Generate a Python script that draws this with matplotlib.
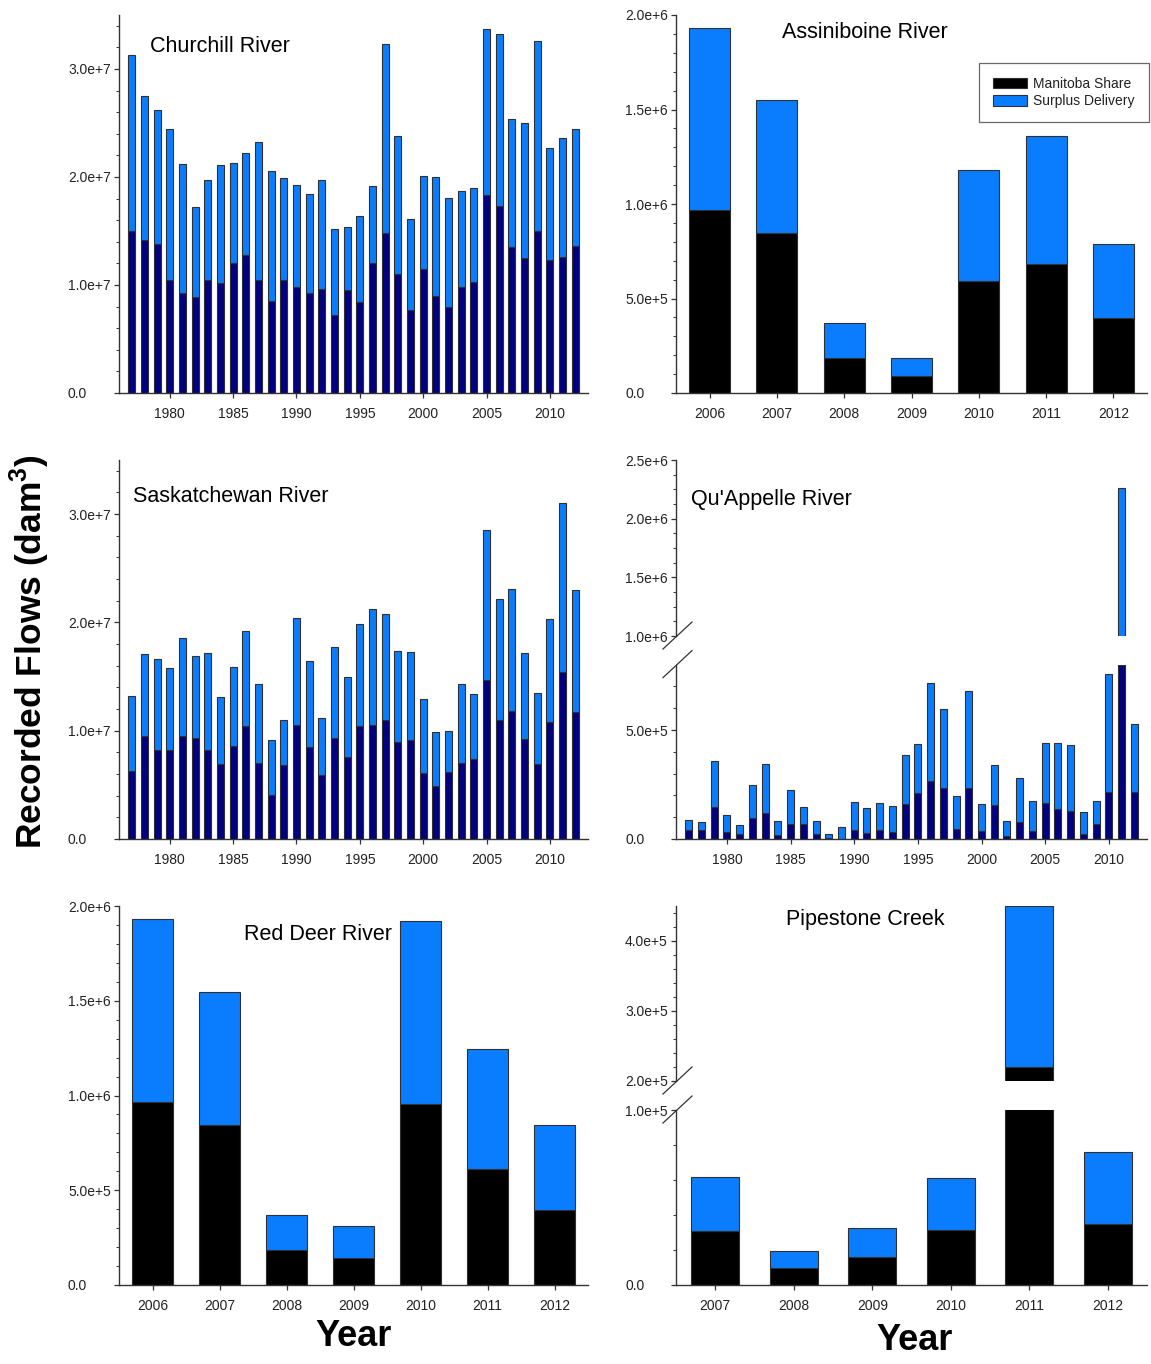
import matplotlib
matplotlib.use("Agg")
import matplotlib.pyplot as plt
import matplotlib.transforms as mtransforms
import numpy as np
from matplotlib.ticker import FixedLocator, MultipleLocator, FuncFormatter
from matplotlib.patches import Patch
from matplotlib.lines import Line2D

plt.rcParams['font.family'] = ['Liberation Sans', 'DejaVu Sans']
plt.rcParams['mathtext.fontset'] = 'custom'
plt.rcParams['mathtext.rm'] = 'Liberation Sans'
plt.rcParams['mathtext.bf'] = 'Liberation Sans:bold'

# ---------------- data ----------------
years = list(range(1977, 2013))

churchill_total = [3.13, 2.75, 2.62, 2.44, 2.12, 1.72, 1.97, 2.11, 2.13, 2.22, 2.32, 2.06,
                   1.99, 1.93, 1.84, 1.97, 1.52, 1.54, 1.64, 1.92, 3.23, 2.38, 1.61, 2.01,
                   2.00, 1.81, 1.87, 1.90, 3.37, 3.32, 2.54, 2.50, 3.26, 2.27, 2.36, 2.44]  # x1e7
churchill_share = [1.50, 1.42, 1.38, 1.05, 0.93, 0.89, 1.05, 1.02, 1.20, 1.28, 1.05, 0.85,
                   1.05, 0.98, 0.93, 0.96, 0.72, 0.95, 0.84, 1.20, 1.48, 1.10, 0.77, 1.15,
                   0.90, 0.80, 0.98, 1.03, 1.83, 1.73, 1.35, 1.25, 1.50, 1.23, 1.26, 1.36]  # x1e7

sask_total = [1.32, 1.71, 1.66, 1.58, 1.86, 1.69, 1.72, 1.31, 1.59, 1.92, 1.43, 0.91,
              1.10, 2.04, 1.64, 1.12, 1.77, 1.50, 1.99, 2.12, 2.08, 1.74, 1.73, 1.29,
              0.99, 1.00, 1.43, 1.34, 2.85, 2.22, 2.31, 1.72, 1.35, 2.03, 3.10, 2.30]  # x1e7
sask_share = [0.63, 0.95, 0.82, 0.82, 0.95, 0.93, 0.82, 0.69, 0.86, 1.04, 0.70, 0.41,
              0.68, 1.05, 0.85, 0.59, 0.93, 0.76, 1.04, 1.05, 1.10, 0.90, 0.91, 0.61,
              0.49, 0.62, 0.70, 0.74, 1.47, 1.10, 1.18, 0.92, 0.69, 1.08, 1.54, 1.17]  # x1e7

quap_total = [0.087, 0.078, 0.360, 0.111, 0.064, 0.247, 0.343, 0.082, 0.224, 0.146, 0.082, 0.021,
              0.055, 0.169, 0.142, 0.165, 0.151, 0.386, 0.437, 0.716, 0.595, 0.198, 0.677, 0.160,
              0.338, 0.082, 0.280, 0.174, 0.442, 0.442, 0.433, 0.125, 0.174, 0.755, 2.258, 0.529]  # x1e6
quap_share = [0.043, 0.043, 0.148, 0.030, 0.023, 0.096, 0.117, 0.017, 0.070, 0.070, 0.021, 0.003,
              0.002, 0.043, 0.026, 0.043, 0.030, 0.162, 0.213, 0.265, 0.235, 0.047, 0.235, 0.035,
              0.155, 0.012, 0.078, 0.035, 0.166, 0.139, 0.130, 0.021, 0.070, 0.216, 0.800, 0.216]  # x1e6

assin_years = ['2006', '2007', '2008', '2009', '2010', '2011', '2012']
assin_total = [1.929, 1.549, 0.368, 0.185, 1.182, 1.358, 0.786]  # x1e6
assin_share = [0.966, 0.846, 0.183, 0.092, 0.594, 0.684, 0.399]  # x1e6

reddeer_years = ['2006', '2007', '2008', '2009', '2010', '2011', '2012']
reddeer_total = [1.933, 1.548, 0.371, 0.309, 1.919, 1.248, 0.844]  # x1e6
reddeer_share = [0.965, 0.844, 0.186, 0.142, 0.954, 0.613, 0.397]  # x1e6

pipe_years = ['2007', '2008', '2009', '2010', '2011', '2012']
pipe_total = [0.620, 0.196, 0.325, 0.614, 4.500, 0.759]  # x1e5
pipe_share = [0.306, 0.100, 0.160, 0.316, 2.200, 0.348]  # x1e5

# ---------------- style ----------------
BLUE = '#0A7DFF'
NAVY = '#000080'
BLACK = '#000000'
EDGE = '#303030'
SPINE = '#333333'
TICKC = '#222222'

W, H = 1151, 1364
fig = plt.figure(figsize=(W / 100, H / 100), dpi=100)
PIX = mtransforms.IdentityTransform()


def add_axes_px(x0, y0, x1, y1):
    """Axes placed by pixel box, y measured from the top edge."""
    return fig.add_axes([x0 / W, 1 - y1 / H, (x1 - x0) / W, (y1 - y0) / H])


def sci_fmt(v, pos=None):
    if abs(v) < 1e-12:
        return '0.0'
    exp = int(np.floor(np.log10(abs(v)) + 1e-9))
    mant = v / 10 ** exp
    return f'{mant:.1f}e+{exp}'


def style_axes(ax, label_offset_px=51):
    for s in ['top', 'right']:
        ax.spines[s].set_visible(False)
    for s in ['left', 'bottom']:
        ax.spines[s].set_color(SPINE)
        ax.spines[s].set_linewidth(1.0)
    ax.tick_params(axis='both', which='major', direction='out', length=3.5, width=0.9,
                   color=SPINE, labelcolor=TICKC, labelsize=10)
    ax.tick_params(axis='both', which='minor', direction='out', length=2, width=0.7, color=SPINE)
    ax.tick_params(axis='x', which='minor', bottom=False)
    ax.tick_params(axis='x', which='major', pad=6.5)
    # y labels are left-aligned at a fixed distance from the spine
    ax.tick_params(axis='y', which='major', pad=label_offset_px * 0.72 - 3.5)
    ax.yaxis.set_major_formatter(FuncFormatter(sci_fmt))


def left_align_yticks(ax):
    for lab in ax.get_yticklabels():
        lab.set_horizontalalignment('left')


def stacked(ax, x, total, share, scale, share_color, width):
    share_v = np.array(share) * scale
    surplus_v = (np.array(total) - np.array(share)) * scale
    ax.bar(x, share_v, width=width, color=share_color, edgecolor=EDGE, linewidth=0.8)
    ax.bar(x, surplus_v, bottom=share_v, width=width, color=BLUE, edgecolor=EDGE, linewidth=0.8)


def break_mark(ax, where):
    # diagonal stroke across the left spine at the top or bottom end of an axis segment
    pos = ax.get_position()
    xs = pos.x0 * W
    ys = (pos.y1 if where == 'top' else pos.y0) * H
    line = Line2D([(xs - 13) / W, (xs + 16) / W], [(ys - 13) / H, (ys + 14) / H],
                  transform=fig.transFigure, color=SPINE, linewidth=0.9)
    fig.add_artist(line)


def panel_title(ax, x, y_top, text, ha):
    ax.text(x, H - y_top, text, transform=PIX, fontsize=15.5, ha=ha, va='center')


# ---------------- Churchill River ----------------
ax = add_axes_px(119, 15, 588, 393)
stacked(ax, years, churchill_total, churchill_share, 1e7, NAVY, 0.55)
ax.set_xlim(1976, 2013)
ax.set_ylim(0, 3.5e7)
ax.xaxis.set_major_locator(MultipleLocator(5))
ax.yaxis.set_major_locator(FixedLocator([0, 1e7, 2e7, 3e7]))
ax.yaxis.set_minor_locator(MultipleLocator(2e6))
style_axes(ax)
left_align_yticks(ax)
panel_title(ax, 150, 46, 'Churchill River', 'left')

# ---------------- Assiniboine River ----------------
ax = add_axes_px(676, 15, 1147, 393)
xa = np.arange(len(assin_years))
stacked(ax, xa, assin_total, assin_share, 1e6, BLACK, 0.61)
ax.set_xlim(-0.5, len(assin_years) - 0.5)
ax.set_ylim(0, 2.0e6)
ax.set_xticks(xa)
ax.set_xticklabels(assin_years)
ax.yaxis.set_major_locator(MultipleLocator(5e5))
ax.yaxis.set_minor_locator(MultipleLocator(1e5))
style_axes(ax)
left_align_yticks(ax)
panel_title(ax, 864.5, 32, 'Assiniboine River', 'center')
handles = [Patch(facecolor=BLACK, edgecolor=EDGE, linewidth=0.8, label='Manitoba Share'),
           Patch(facecolor=BLUE, edgecolor=EDGE, linewidth=0.8, label='Surplus Delivery')]
leg = ax.legend(handles=handles, loc='upper right', bbox_to_anchor=(1.004, 0.873),
                frameon=True, fancybox=False, fontsize=10, handlelength=2.4, handleheight=0.75,
                handletextpad=0.5, labelspacing=0.25, borderpad=1.0, borderaxespad=0)
leg.get_frame().set_edgecolor('#444444')
leg.get_frame().set_linewidth(0.9)
for t in leg.get_texts():
    t.set_color(TICKC)

# ---------------- Saskatchewan River ----------------
ax = add_axes_px(119, 460, 588, 839)
stacked(ax, years, sask_total, sask_share, 1e7, NAVY, 0.55)
ax.set_xlim(1976, 2013)
ax.set_ylim(0, 3.5e7)
ax.xaxis.set_major_locator(MultipleLocator(5))
ax.yaxis.set_major_locator(FixedLocator([0, 1e7, 2e7, 3e7]))
ax.yaxis.set_minor_locator(MultipleLocator(2e6))
style_axes(ax)
left_align_yticks(ax)
panel_title(ax, 133, 497, 'Saskatchewan River', 'left')

# ---------------- Qu'Appelle River (broken axis) ----------------
ax_up = add_axes_px(676, 460, 1147, 636)
ax_lo = add_axes_px(676, 664.6, 1147, 839)
for a in (ax_up, ax_lo):
    stacked(a, years, quap_total, quap_share, 1e6, NAVY, 0.55)
    a.set_xlim(1976, 2013)
ax_up.set_ylim(1.0e6, 2.5e6)
ax_lo.set_ylim(0, 0.8e6)
ax_up.yaxis.set_major_locator(MultipleLocator(5e5))
ax_up.yaxis.set_minor_locator(MultipleLocator(1.25e5))
ax_lo.yaxis.set_major_locator(FixedLocator([0, 5e5]))
ax_lo.yaxis.set_minor_locator(FixedLocator([1e5, 2e5, 3e5, 4e5, 6e5, 7e5]))
ax_lo.xaxis.set_major_locator(MultipleLocator(5))
style_axes(ax_up)
style_axes(ax_lo)
ax_up.spines['bottom'].set_visible(False)
ax_up.tick_params(axis='x', which='both', bottom=False, labelbottom=False)
left_align_yticks(ax_up)
left_align_yticks(ax_lo)
break_mark(ax_up, 'bottom')
break_mark(ax_lo, 'top')
panel_title(ax_up, 691, 500, "Qu'Appelle River", 'left')

# ---------------- Red Deer River ----------------
ax = add_axes_px(119, 906, 588, 1285)
xr = np.arange(len(reddeer_years))
stacked(ax, xr, reddeer_total, reddeer_share, 1e6, BLACK, 0.6)
ax.set_xlim(-0.5, len(reddeer_years) - 0.5)
ax.set_ylim(0, 2.0e6)
ax.set_xticks(xr)
ax.set_xticklabels(reddeer_years)
ax.yaxis.set_major_locator(MultipleLocator(5e5))
ax.yaxis.set_minor_locator(MultipleLocator(1e5))
style_axes(ax)
left_align_yticks(ax)
panel_title(ax, 318.5, 934, 'Red Deer River', 'center')

# ---------------- Pipestone Creek (broken axis) ----------------
ax_up = add_axes_px(676, 906, 1147, 1081)
ax_lo = add_axes_px(676, 1110, 1147, 1285)
xp = np.arange(len(pipe_years))
for a in (ax_up, ax_lo):
    stacked(a, xp, pipe_total, pipe_share, 1e5, BLACK, 0.61)
    a.set_xlim(-0.5, len(pipe_years) - 0.5)
ax_up.set_ylim(2.0e5, 4.5e5)
ax_lo.set_ylim(0, 1.0e5)
ax_up.yaxis.set_major_locator(MultipleLocator(1e5))
ax_up.yaxis.set_minor_locator(MultipleLocator(2e4))
ax_lo.yaxis.set_major_locator(FixedLocator([0, 1e5]))
ax_lo.yaxis.set_minor_locator(FixedLocator([2e4, 4e4, 6e4, 8e4]))
ax_lo.set_xticks(xp)
ax_lo.set_xticklabels(pipe_years)
style_axes(ax_up)
style_axes(ax_lo)
ax_up.spines['bottom'].set_visible(False)
ax_up.tick_params(axis='x', which='both', bottom=False, labelbottom=False)
left_align_yticks(ax_up)
left_align_yticks(ax_lo)
break_mark(ax_up, 'bottom')
break_mark(ax_lo, 'top')
panel_title(ax_up, 865.5, 920, 'Pipestone Creek', 'center')

# ---------------- shared labels ----------------
fig.text(30 / W, 1 - 652 / H, r'Recorded Flows (dam$^{\mathbf{3}}$)', rotation=90,
         fontsize=25.5, fontweight='bold', ha='center', va='center')
fig.text(354 / W, 1 - 1337 / H, 'Year', fontsize=26, fontweight='bold', ha='center', va='center')
fig.text(915 / W, 1 - 1340 / H, 'Year', fontsize=26, fontweight='bold', ha='center', va='center')

fig.savefig('out.png', dpi=100)
